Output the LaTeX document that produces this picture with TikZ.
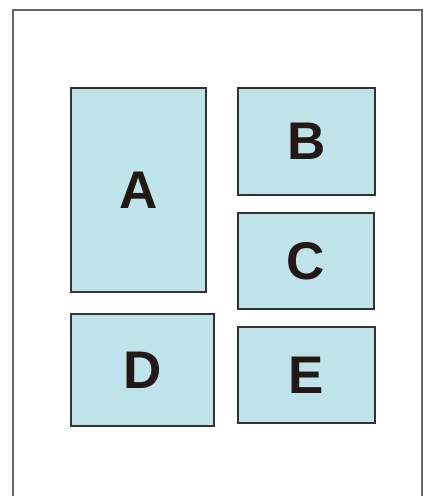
\documentclass[tikz,border=0pt]{standalone}
\usepackage{fontspec}
\setmainfont{Liberation Sans}
\definecolor{panelblue}{RGB}{190,227,232}
\definecolor{letterdark}{RGB}{35,24,21}
\tikzset{
  panel/.style={draw=black!80, line width=1.2pt, fill=panelblue, rectangle, inner sep=0pt,
    text=letterdark, font=\fontsize{53}{53}\selectfont\bfseries},
  frame/.style={draw=black!60, line width=1.2pt}
}
\begin{document}
\begin{tikzpicture}[x=1pt,y=-1pt]
        \useasboundingbox (0,0) rectangle (423,496);
        % page frame
        \draw [frame] (13,510) -- (13,10) -- (422,10) -- (422,510);
        % left column
        \node [panel, minimum width=135pt, minimum height=204pt] (A) at (138.5,190) {A};
        \node [panel, minimum width=143pt, minimum height=112pt] (D) at (142.5,370) {D};
        % right column
        \node [panel, minimum width=137pt, minimum height=107pt] (B) at (306.5,141.5) {B};
        \node [panel, minimum width=136pt, minimum height=96pt] (C) at (306,261) {C};
        \node [panel, minimum width=137pt, minimum height=96pt] (E) at (306.5,375) {E};
    \end{tikzpicture}
\end{document}
